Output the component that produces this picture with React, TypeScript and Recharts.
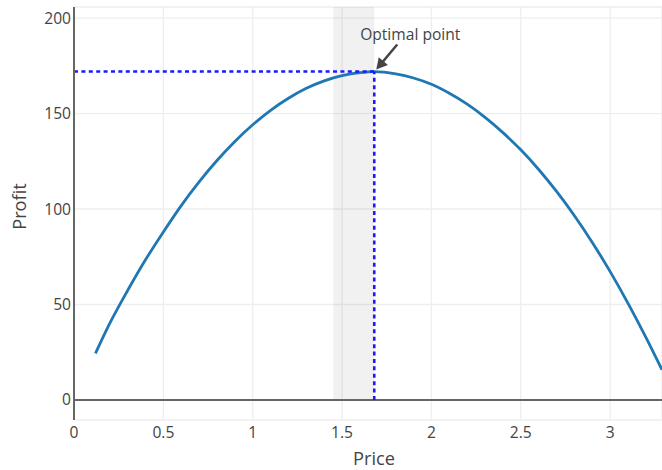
import React from 'react';
import {
  LineChart,
  Line,
  XAxis,
  YAxis,
  CartesianGrid,
  ReferenceLine,
  ReferenceArea,
  ReferenceDot,
} from 'recharts';

// Prices (x) and profits (y)
const prices = [
  0.12, 0.2, 0.3, 0.4, 0.5, 0.6, 0.7, 0.8, 0.9, 1.0, 1.1, 1.2, 1.3, 1.4, 1.5, 1.6,
  1.68, 1.8, 1.9, 2.0, 2.1, 2.2, 2.3, 2.4, 2.5, 2.6, 2.7, 2.8, 2.9, 3.0, 3.1, 3.2, 3.29,
];
const profits = [
  24.4, 40.1, 57.3, 73.4, 88.0, 101.8, 114.2, 125.4, 135.4, 144.1, 151.7, 158.0, 163.2, 167.1, 169.8, 171.4,
  172, 170.8, 168.6, 165.3, 160.6, 154.9, 148.0, 140.0, 131.0, 120.7, 109.2, 96.5, 82.5, 67.2, 50.6, 32.8, 15.8,
];

const xTicks = [0, 0.5, 1, 1.5, 2, 2.5, 3];
const yTicks = [0, 50, 100, 150, 200];
const xDomain = [0, 3.29];
const yDomain = [-10.5, 205.8];

const optimalPrice = 1.68;
const optimalProfit = 172;
const bandStart = 1.45;
const bandEnd = 1.68;
const annotationText = 'Optimal point';

const data = prices.map((p, i) => ({ price: p, profit: profits[i] }));

const FONT = '"Open Sans", sans-serif';
const TEXT = '#444';

const AnnotationShape = (props: any) => {
  const { cx, cy } = props;
  if (cx == null || cy == null) return null;
  const tipX = cx + 2;
  const tipY = cy - 2;
  const tailX = cx + 23;
  const tailY = cy - 27;
  const dxv = tipX - tailX;
  const dyv = tipY - tailY;
  const len = Math.sqrt(dxv * dxv + dyv * dyv);
  const ux = dxv / len;
  const uy = dyv / len;
  const headLen = 11;
  const headHalf = 6;
  const bx = tipX - ux * headLen;
  const by = tipY - uy * headLen;
  const px = -uy;
  const py = ux;
  return (
    <g>
      <line x1={tailX} y1={tailY} x2={bx + ux * 2} y2={by + uy * 2} stroke={TEXT} strokeWidth={2.4} />
      <polygon
        points={`${tipX},${tipY} ${bx + px * headHalf},${by + py * headHalf} ${bx - px * headHalf},${by - py * headHalf}`}
        fill={TEXT}
      />
      <text x={cx + 36} y={cy - 32} textAnchor="middle" fontFamily={FONT} fontSize={15.6} fill={TEXT}>
        {annotationText}
      </text>
    </g>
  );
};

export default function App() {
  return (
    <div style={{ position: 'absolute', left: 0, top: 0, width: 662, height: 470, background: '#fff' }}>
      <LineChart width={662} height={470} data={data} margin={{ top: 7, right: 0, bottom: 20, left: 0 }}>
        <CartesianGrid stroke="#eee" strokeWidth={1.3} />
        <XAxis
          dataKey="price"
          type="number"
          domain={xDomain}
          ticks={xTicks}
          allowDataOverflow
          height={30}
          tickLine={false}
          axisLine={false}
          tickSize={6}
          tickMargin={1}
          tick={{ fill: TEXT, fontSize: 15.6, fontFamily: FONT }}
          label={{
            value: 'Price',
            position: 'insideBottom',
            offset: -15,
            dx: 6,
            fill: TEXT,
            fontSize: 18.2,
            fontFamily: FONT,
          }}
        />
        <YAxis
          type="number"
          domain={yDomain}
          ticks={yTicks}
          allowDataOverflow
          width={74}
          tickLine={false}
          axisLine={{ stroke: '#666', strokeWidth: 2 }}
          tickSize={1}
          tickMargin={2}
          tick={{ fill: TEXT, fontSize: 15.6, fontFamily: FONT }}
          label={{
            value: 'Profit',
            angle: -90,
            position: 'center',
            dx: -17,
            dy: -7,
            fill: TEXT,
            fontSize: 18.2,
            fontFamily: FONT,
          }}
        />
        <ReferenceArea
          x1={bandStart}
          x2={bandEnd}
          y1={0}
          y2={yDomain[1]}
          fill="#000"
          fillOpacity={0.055}
          stroke="none"
          ifOverflow="visible"
        />
        <ReferenceLine y={0} stroke="#666" strokeWidth={2} />
        <Line
          dataKey="profit"
          type="monotone"
          stroke="#1f77b4"
          strokeWidth={2.8}
          dot={false}
          activeDot={false}
          isAnimationActive={false}
        />
        <ReferenceLine
          segment={[
            { x: 0, y: optimalProfit },
            { x: optimalPrice, y: optimalProfit },
          ]}
          stroke="#1a1aff"
          strokeWidth={2.6}
          strokeDasharray="4 3.4"
        />
        <ReferenceLine
          segment={[
            { x: optimalPrice, y: 0 },
            { x: optimalPrice, y: optimalProfit },
          ]}
          stroke="#1a1aff"
          strokeWidth={2.6}
          strokeDasharray="4 3.4"
        />
        <ReferenceDot x={optimalPrice} y={optimalProfit} r={0} shape={AnnotationShape} />
      </LineChart>
    </div>
  );
}
